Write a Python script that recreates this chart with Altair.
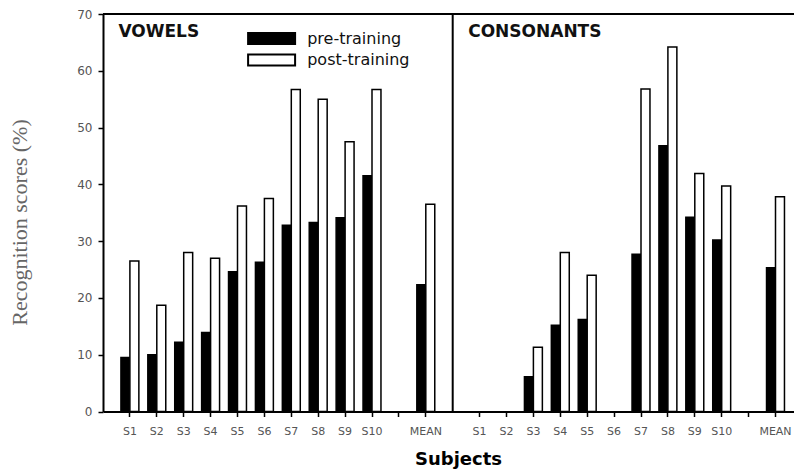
import altair as alt
import pandas as pd

subjects = ["S1", "S2", "S3", "S4", "S5", "S6", "S7", "S8", "S9", "S10", "MEAN"]
phases = ["pre-training", "post-training"]
panel_titles = ["VOWELS", "CONSONANTS"]

vowels_pre = [9.5, 10.0, 12.2, 13.9, 24.6, 26.3, 32.8, 33.3, 34.1, 41.5, 22.3]
vowels_post = [26.5, 18.7, 28.0, 27.0, 36.2, 37.5, 56.7, 55.0, 47.5, 56.7, 36.5]
cons_pre = [0, 0, 6.1, 15.2, 16.2, 0, 27.7, 46.8, 34.2, 30.2, 25.3]
cons_post = [0, 0, 11.3, 28.0, 24.0, 0, 56.8, 64.2, 41.9, 39.7, 37.8]

rows = []
for panel, pre, post in [("V", vowels_pre, vowels_post), ("C", cons_pre, cons_post)]:
    for s, a, b in zip(subjects, pre, post):
        rows.append({"slot": f"{panel}|{s}", "phase": phases[0], "score": a})
        rows.append({"slot": f"{panel}|{s}", "phase": phases[1], "score": b})
df = pd.DataFrame(rows)


def slots(panel):
    return [f"{panel}|{s}" for s in subjects[:10]] + [f"{panel}|gap", f"{panel}|MEAN"]


x_domain = slots("V") + ["div"] + slots("C")
STEP = 26.9
FULL = STEP * (len(x_domain) + 1)   # the scale runs past the visible right edge
x_scale = alt.Scale(domain=x_domain, range=[0, FULL], paddingInner=0, paddingOuter=0.5)

x_axis = alt.Axis(
    title="Subjects", titleFont="DejaVu Sans", titleFontSize=18, titleFontWeight="bold",
    titleColor="black", titleX=355, titleY=48, titleAlign="center", titleBaseline="middle",
    labelExpr="(datum.value == 'div' || indexof(datum.value, 'gap') >= 0) ? '' : split(datum.value, '|')[1]",
    labelAngle=0, labelFont="DejaVu Sans", labelFontSize=11, labelColor="#555", labelPadding=9,
    domainColor="black", domainWidth=2, tickWidth=1.5, tickSize=5,
    tickColor={"condition": {"test": "datum.value === 'div'", "value": "transparent"}, "value": "black"},
    grid=False,
)

y_axis = alt.Axis(
    values=list(range(0, 71, 10)), title="Recognition scores (%)",
    titleFont="Liberation Serif", titleFontSize=22, titleFontWeight="normal", titleColor="#666",
    titleX=-84, titleY=208, titleAngle=270, titleAlign="center", titleBaseline="middle",
    domainColor="black", domainWidth=2, tickColor="black", tickWidth=1.5, tickSize=5,
    labelFont="DejaVu Sans", labelFontSize=12, labelColor="#555", labelPadding=6, grid=False,
)

legend = alt.Legend(
    orient="none", legendX=160.6, legendY=16.5, title=None,
    symbolType="M-4,-0.936H4V0.936H-4Z", symbolSize=138,
    symbolStrokeColor="black", symbolStrokeWidth=2, symbolOpacity=1,
    labelFont="DejaVu Sans", labelFontSize=16, labelColor="#111", labelOffset=27.6,
    rowPadding=1.5, padding=0,
)

bars = alt.Chart(df).transform_filter("datum.score > 0").mark_bar(
    stroke="black", strokeWidth=1.5
).encode(
    x=alt.X("slot:N", scale=x_scale, axis=x_axis),
    xOffset=alt.XOffset("phase:N", scale=alt.Scale(domain=phases, paddingInner=0, paddingOuter=0.5)),
    y=alt.Y("score:Q", scale=alt.Scale(domain=[0, 70], nice=False), axis=y_axis),
    fill=alt.Fill("phase:N", scale=alt.Scale(domain=phases, range=["black", "white"]), legend=legend),
)

divider = alt.Chart(pd.DataFrame({"slot": ["div"]})).mark_rule(color="black", strokeWidth=2).encode(
    x=alt.X("slot:N", scale=x_scale)
)

top = alt.Chart(pd.DataFrame({"top": [70]})).mark_rule(color="black", strokeWidth=2).encode(
    y=alt.Y("top:Q")
)

labels = alt.Chart(pd.DataFrame({"slot": ["V|S1", "C|S1"], "label": panel_titles})).mark_text(
    align="left", baseline="middle", font="DejaVu Sans", fontWeight="bold", fontSize=17,
    dx=2, color="#111"
).encode(
    x=alt.X("slot:N", bandPosition=0, scale=x_scale),
    y=alt.value(18),
    text="label:N",
)

chart = alt.layer(bars, divider, top, labels).properties(
    width=691, height=397.5,
    autosize=alt.AutoSizeParams(type="none"),
    padding={"left": 95, "top": 6, "right": 0, "bottom": 57},
).configure_view(stroke=None)

chart.save("out.html", embed_options={"renderer": "svg", "actions": False})
